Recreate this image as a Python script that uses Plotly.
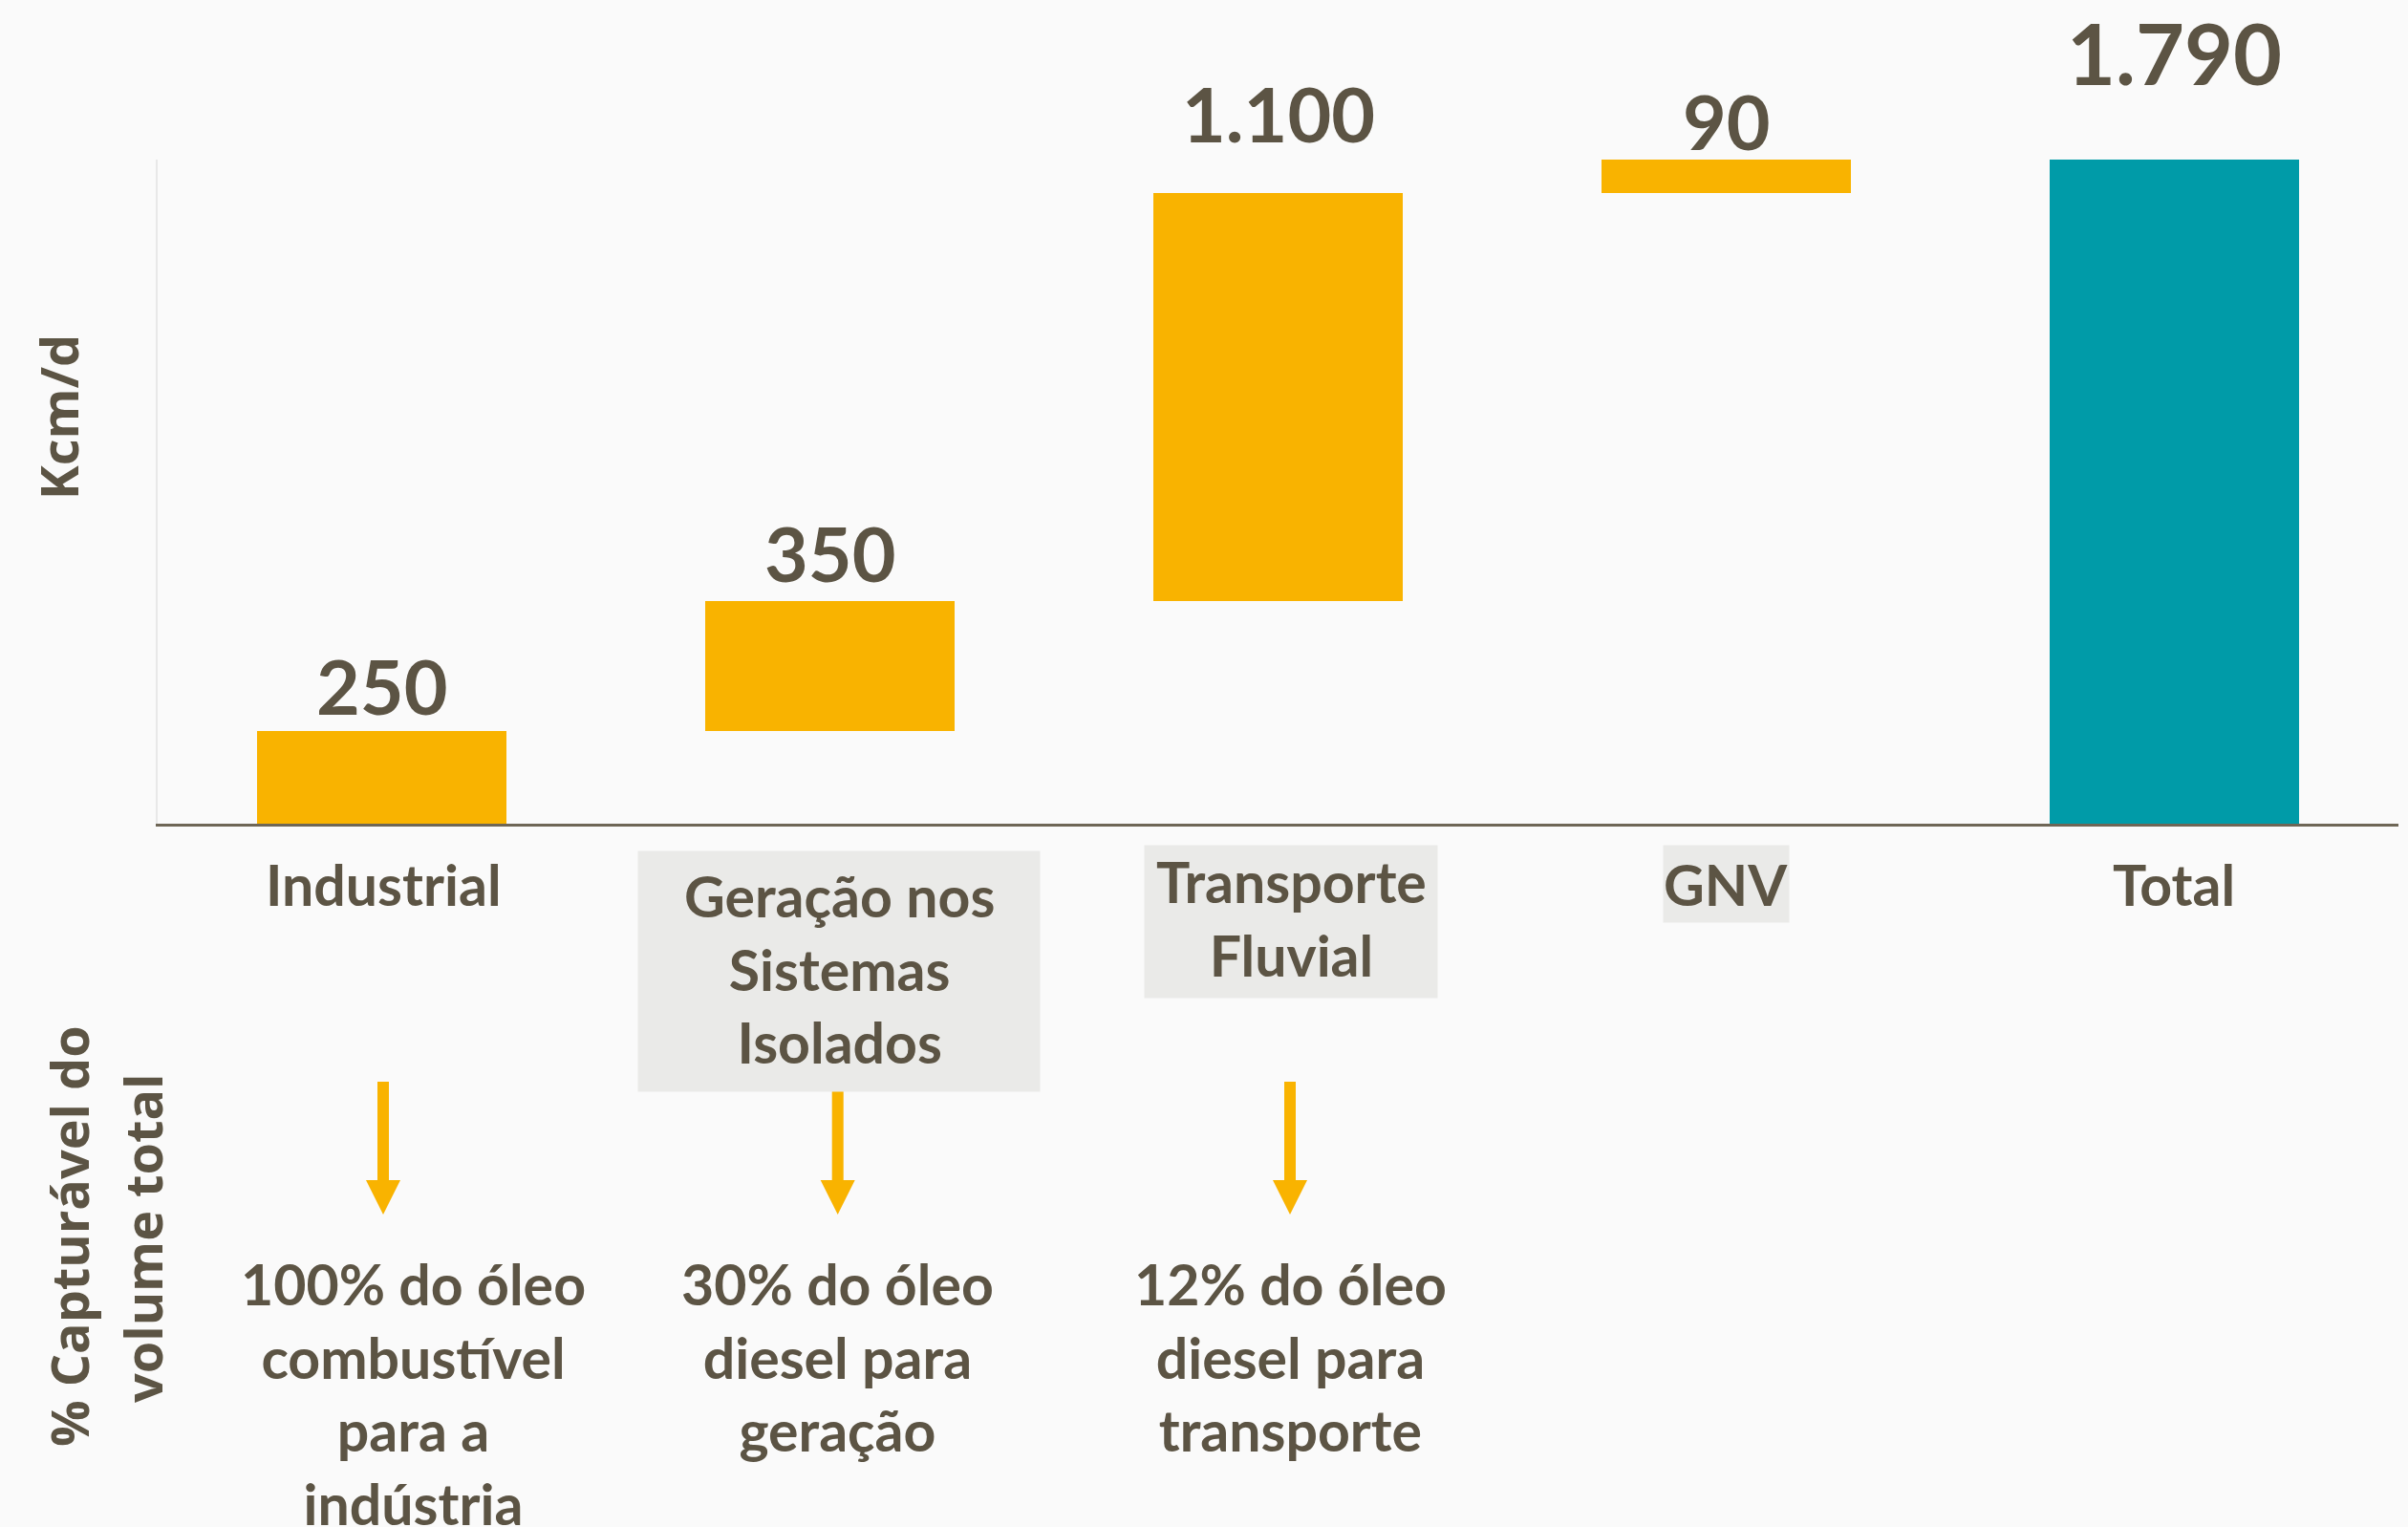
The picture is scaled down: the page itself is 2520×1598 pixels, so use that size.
import plotly.graph_objects as go

# ---- data -------------------------------------------------------------
categories = ["Industrial", "Geração nos Sistemas Isolados", "Transporte Fluvial", "GNV", "Total"]
increments = [250, 350, 1100, 90]          # Kcm/d
measures = ["relative", "relative", "relative", "relative", "total"]
axis_labels = ["Industrial", "Geração nos<br>Sistemas<br>Isolados", "Transporte<br>Fluvial", "GNV", "Total"]
label_boxed = [False, True, True, True, False]
capture_notes = ["100% do óleo<br>combustível<br>para a<br>indústria",
                 "30% do óleo<br>diesel para<br>geração",
                 "12% do óleo<br>diesel para<br>transporte"]

total_value = sum(increments)
bar_values = increments + [total_value]

# ---- styling ------------------------------------------------------------
W, H = 2520, 1598
ML, MR, MT, MB = 165, 10, 167, 736
PW, PH = W - ML - MR, H - MT - MB
BG = "#fafafa"
TXT = "#5c5444"
ORANGE = "#f9b300"
TEAL = "#009ba8"
BOX = "#eaeae8"
BODY_FONT = "Lato"
TITLE_FONT = "Open Sans"


def xp(px):
    return (px - ML) / PW


def yp(py):
    return (H - MB - py) / PH


def fmt(v):
    return f"{v:,}".replace(",", ".")


fig = go.Figure(go.Waterfall(
    x=list(range(len(categories))),
    y=increments + [None],
    measure=measures,
    increasing=dict(marker=dict(color=ORANGE, line=dict(width=0))),
    totals=dict(marker=dict(color=TEAL, line=dict(width=0))),
    connector=dict(visible=False),
    hoverinfo="skip",
))

annotations = []

# value labels above each bar
tops = []
run = 0
for v in increments:
    run += v
    tops.append(run)
tops.append(total_value)
label_lift = [14, 17, 50, 7, 75]
label_size = [79, 79, 79, 79, 88]
for i, (top, val) in enumerate(zip(tops, bar_values)):
    annotations.append(dict(
        x=i, y=top, xref="x", yref="y", text=f"<b>{fmt(val)}</b>",
        showarrow=False, yanchor="bottom", yshift=label_lift[i] - 0.2 * label_size[i],
        font=dict(family=BODY_FONT, size=label_size[i], color=TXT),
    ))

# category labels under the axis
label_center_x = [401, 878, 1351, 1806, 2275]
label_center_y = [925, 1014, 961, 925, 925]
label_box_w = [300, 420, 306, 131, 300]
label_box_h = [80, 251, 159, 80, 80]
label_box_cy = [925, 1016, 964, 925, 925]
for i, txt in enumerate(axis_labels):
    # background panel
    if label_boxed[i]:
        annotations.append(dict(
            x=xp(label_center_x[i]), y=yp(label_box_cy[i]), xref="paper", yref="paper",
            text=" ", showarrow=False, xanchor="center", yanchor="middle",
            width=label_box_w[i], height=label_box_h[i], borderpad=0, bgcolor=BOX,
            font=dict(family=BODY_FONT, size=10, color=TXT),
        ))
    annotations.append(dict(
        x=xp(label_center_x[i]), y=yp(label_center_y[i]), xref="paper", yref="paper",
        text=f"<b>{txt}</b>", showarrow=False, xanchor="center", yanchor="middle",
        font=dict(family=BODY_FONT, size=59, color=TXT), align="center",
    ))

# capture notes under the arrows
note_center_x = [432, 876, 1350]
for cx, txt in zip(note_center_x, capture_notes):
    annotations.append(dict(
        x=xp(cx), y=yp(1306), xref="paper", yref="paper", text=f"<b>{txt}</b>",
        showarrow=False, xanchor="center", yanchor="top", align="center",
        font=dict(family=BODY_FONT, size=59, color=TXT),
    ))

# rotated side titles
annotations.append(dict(
    x=xp(61), y=yp(437), xref="paper", yref="paper", text="<b>Kcm/d</b>",
    showarrow=False, textangle=-90, xanchor="center", yanchor="middle",
    font=dict(family=TITLE_FONT, size=54, color=TXT),
))
annotations.append(dict(
    x=xp(72), y=yp(1294), xref="paper", yref="paper", text="<b>% Capturável do</b>",
    showarrow=False, textangle=-90, xanchor="center", yanchor="middle",
    font=dict(family=TITLE_FONT, size=54, color=TXT),
))
annotations.append(dict(
    x=xp(149), y=yp(1296), xref="paper", yref="paper", text="<b>volume total</b>",
    showarrow=False, textangle=-90, xanchor="center", yanchor="middle",
    font=dict(family=TITLE_FONT, size=54, color=TXT),
))

# downward arrows from category to capture note
shapes = []
arrow_x = [401, 876.7, 1350]
for cx in arrow_x:
    shapes.append(dict(
        type="rect", xref="paper", yref="paper", layer="below",
        x0=xp(cx - 6), x1=xp(cx + 6), y0=yp(1132), y1=yp(1237),
        fillcolor=ORANGE, line=dict(width=0),
    ))
    shapes.append(dict(
        type="path", xref="paper", yref="paper", layer="below",
        path=(f"M {xp(cx - 18)},{yp(1235)} L {xp(cx + 18)},{yp(1235)} "
              f"L {xp(cx)},{yp(1271)} Z"),
        fillcolor=ORANGE, line=dict(width=0),
    ))

fig.update_layout(
    width=W, height=H,
    margin=dict(l=ML, r=MR, t=MT, b=MB, pad=0),
    paper_bgcolor=BG, plot_bgcolor=BG,
    waterfallgap=0.4435,
    showlegend=False,
    annotations=annotations,
    shapes=shapes,
    xaxis=dict(range=[-0.5, 4.5], showticklabels=False, ticks="", showgrid=False,
               zeroline=False, showline=True, linecolor="#6e6656", linewidth=2.5),
    yaxis=dict(range=[0, total_value], showticklabels=False, ticks="", showgrid=False,
               zeroline=False, showline=True, linecolor="#e8e8e8", linewidth=1.5),
)

fig.write_html("out.html")
